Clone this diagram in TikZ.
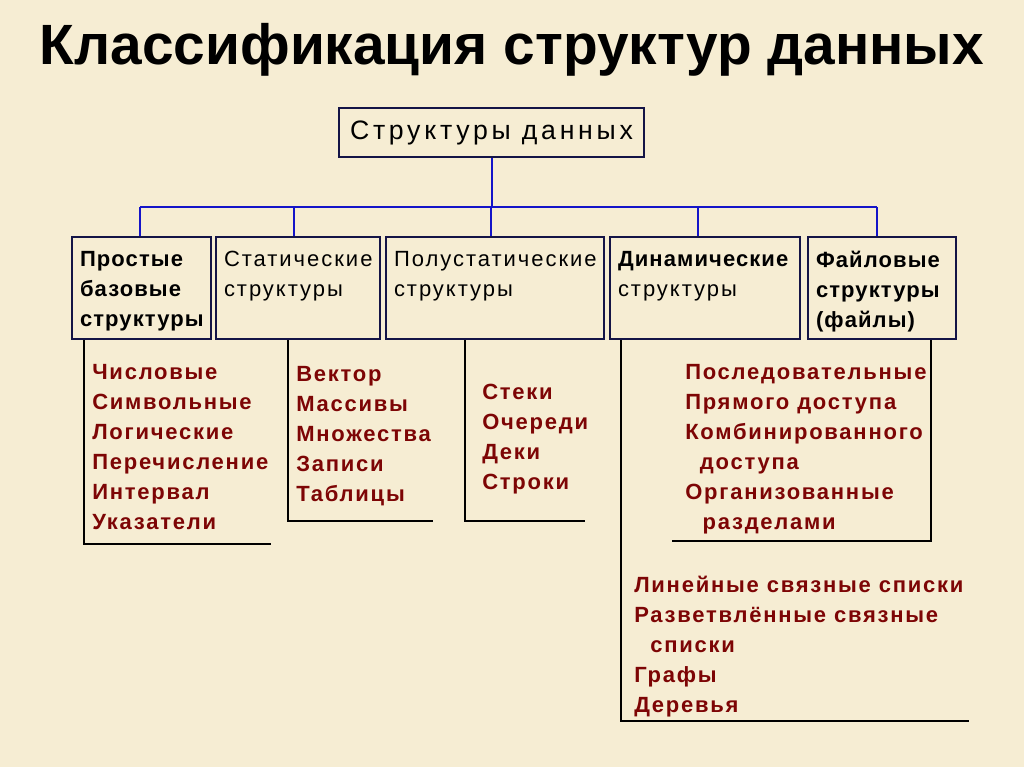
\documentclass[tikz,border=0pt]{standalone}
\usepackage{fontspec}
\usetikzlibrary{calc}
\setmainfont{Liberation Sans}
\newfontfamily\lsreg[LetterSpace=9]{Liberation Sans}
\newfontfamily\lsbold[LetterSpace=5]{Liberation Sans}
\newfontfamily\lstop[LetterSpace=14]{Liberation Sans}
\newfontfamily\lslist[LetterSpace=8]{Liberation Sans}
\definecolor{bg}{RGB}{246,237,211}
\definecolor{boxcol}{RGB}{20,20,70}
\definecolor{conncol}{RGB}{20,20,200}
\definecolor{itemcol}{RGB}{125,5,5}
\newcommand\bxt[3]{\parbox[c][\dimexpr #2pt*3/4\relax][t]{\dimexpr #1pt*3/4\relax}{\raggedright #3}}
\newcommand\bld{\lsbold\bfseries}
\tikzset{
  boxnode/.style={draw=boxcol, line width=1.5pt, inner ysep=10.5pt, inner xsep=6pt, font=\lsreg\fontsize{16.5}{22.5}\selectfont, text=black},
  conn/.style={draw=conncol, line width=1.5pt},
  brk/.style={draw=black, line width=1.5pt},
  listnode/.style={anchor=north west, inner sep=0pt, align=left, text=itemcol, font=\lslist\bfseries\fontsize{16.5}{22.5}\selectfont},
}
\begin{document}
\begin{tikzpicture}[x=0.75pt, y=-0.75pt]
\fill[bg] (0,0) rectangle (1024,767);
\useasboundingbox (0,0) rectangle (1024,767);

\node[font=\bfseries\fontsize{42.6}{50}\selectfont] (title) at (512,50) {Классификация структур данных};

\node[draw=boxcol, line width=1.5pt, minimum width=228.75pt, minimum height=36.75pt, inner sep=0pt, font=\lstop\fontsize{20}{24}\selectfont] (root) at (491.5,132.5) {Структуры данных};

\node[boxnode] (b1) at (141.5,288) {\bxt{123}{74}{\bld Простые\\базовые\\структуры}};
\node[boxnode] (b2) at (298,288) {\bxt{148}{74}{Статические\\структуры}};
\node[boxnode] (b3) at (495,288) {\bxt{202}{74}{Полустатические\\структуры}};
\node[boxnode] (b4) at (705,288) {\bxt{174}{74}{{\bld Динамические}\\структуры}};
\node[boxnode] (b5) at (882,288) {\bxt{132}{74}{\bld Файловые\\структуры\\(файлы)}};

\coordinate (bus) at (491,207);
\coordinate (d1) at ($(b1.north)+(-1.5,0)$);
\coordinate (d2) at ($(b2.north)+(-4,0)$);
\coordinate (d3) at ($(b3.north)+(-4,0)$);
\coordinate (d4) at ($(b4.north)+(-7,0)$);
\coordinate (d5) at ($(b5.north)+(-5,0)$);
\draw[conn] (root.south) -- (root.south |- bus);
\draw[conn] (d1 |- bus) -- (d5 |- bus);
\foreach \d in {d1,d2,d3,d4,d5} \draw[conn] (\d |- bus) -- (\d);

\draw[brk] ($(b1.south west)+(13,0)$) -- ++(0,204) -- ++(187,0);
\draw[brk] ($(b2.south west)+(73,0)$) -- ++(0,181) -- ++(145,0);
\draw[brk] ($(b3.south west)+(80,0)$) -- ++(0,181) -- ++(120,0);
\draw[brk] ($(b4.south west)+(12,0)$) -- ++(0,381) -- ++(348,0);
\draw[brk] ($(b5.south west)+(124,0)$) -- ++(0,201) -- ++(-259,0);

\node[listnode] (l1) at (92,364) {Числовые\\Символьные\\Логические\\Перечисление\\Интервал\\Указатели};
\node[listnode] (l2) at (296,366) {Вектор\\Массивы\\Множества\\Записи\\Таблицы};
\node[listnode] (l3) at (482,384) {Стеки\\Очереди\\Деки\\Строки};
\node[listnode] (l5) at (685,364) {Последовательные\\Прямого доступа\\Комбинированного\\\hspace{11pt}доступа\\Организованные\\\hspace{13pt}разделами};
\node[listnode] (l4) at (634,576) {Линейные связные списки\\Разветвлённые связные\\\hspace{12pt}списки\\Графы\\Деревья};
\end{tikzpicture}
\end{document}
